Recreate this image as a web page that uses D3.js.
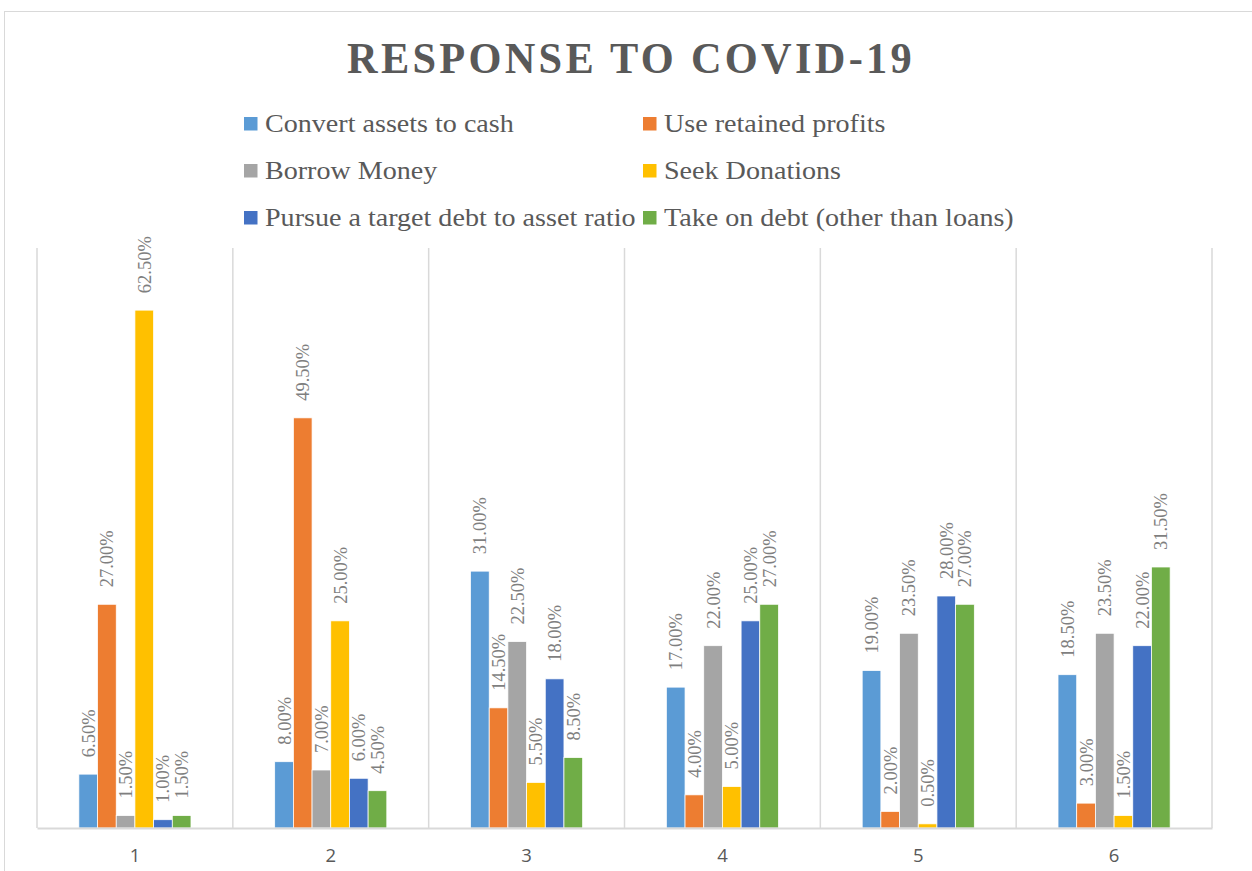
<!DOCTYPE html>
<html>
<head>
<meta charset="utf-8">
<script src="https://cdn.jsdelivr.net/npm/d3@7"></script>
<style>
  body { margin: 0; background: #fff; }
  svg { display: block; }
</style>
</head>
<body>
<div id="chart"></div>
<script>
// data
const categories = ["1", "2", "3", "4", "5", "6"];
const seriesNames = [
  "Convert assets to cash",
  "Use retained profits",
  "Borrow Money",
  "Seek Donations",
  "Pursue a target debt to asset ratio",
  "Take on debt (other than loans)"
];
const convertAssets = [6.5, 8.0, 31.0, 17.0, 19.0, 18.5];
const retainedProfits = [27.0, 49.5, 14.5, 4.0, 2.0, 3.0];
const borrowMoney = [1.5, 7.0, 22.5, 22.0, 23.5, 23.5];
const seekDonations = [62.5, 25.0, 5.5, 5.0, 0.5, 1.5];
const targetDebt = [1.0, 6.0, 18.0, 25.0, 28.0, 22.0];
const otherDebt = [1.5, 4.5, 8.5, 27.0, 27.0, 31.5];
const seriesValues = [convertAssets, retainedProfits, borrowMoney, seekDonations, targetDebt, otherDebt];

const colors = ["#5b9bd5", "#ed7d31", "#a5a5a5", "#ffc000", "#4472c4", "#70ad47"];

const width = 1252, height = 871;
const plot = { left: 37, right: 1212, top: 248, bottom: 828 };
const serif = "'Liberation Serif', 'Times New Roman', serif";
const stretch = 1.08; // the source text is a little wide

const svg = d3.select("#chart").append("svg")
  .attr("width", width)
  .attr("height", height);

// chart border
svg.append("rect")
  .attr("x", 4.5).attr("y", 11.5)
  .attr("width", 1270).attr("height", 880)
  .attr("fill", "none")
  .attr("stroke", "#d9d9d9");

// title
svg.append("text")
  .attr("x", 347).attr("y", 72.5)
  .attr("textLength", 568)
  .attr("lengthAdjust", "spacingAndGlyphs")
  .attr("letter-spacing", 3.5)
  .attr("font-family", serif)
  .attr("font-weight", "bold")
  .attr("font-size", 45)
  .attr("fill", "#595959")
  .text("RESPONSE TO COVID-19");

// legend
const legend = svg.append("g");
seriesNames.forEach((name, i) => {
  const col = i % 2, row = Math.floor(i / 2);
  const g = legend.append("g")
    .attr("transform", `translate(${col === 0 ? 244 : 643},${117 + row * 47})`);
  g.append("rect")
    .attr("width", 13.5).attr("height", 13.5)
    .attr("fill", colors[i]);
  const t = g.append("text")
    .attr("x", 21).attr("y", 14.5)
    .attr("font-family", serif)
    .attr("font-size", 26)
    .attr("fill", "#595959")
    .text(name);
  const len = t.node().getComputedTextLength();
  t.attr("textLength", len * stretch).attr("lengthAdjust", "spacingAndGlyphs");
});

// scales
const x0 = d3.scaleBand()
  .domain(categories)
  .range([plot.left, plot.right])
  .padding(0);

const x1 = d3.scaleBand()
  .domain(d3.range(seriesNames.length))
  .range([0, x0.bandwidth()])
  .paddingInner(0)
  .paddingOuter(2.24);

const y = d3.scaleLinear()
  .domain([0, 70])
  .range([plot.bottom, plot.top]);

// vertical separators
const bounds = categories.map(c => x0(c)).concat([plot.right]);
svg.append("g")
  .selectAll("line")
  .data(bounds)
  .join("line")
  .attr("x1", d => d).attr("x2", d => d)
  .attr("y1", plot.top).attr("y2", plot.bottom)
  .attr("stroke", "#d9d9d9")
  .attr("stroke-width", 1.5);

// bars
const rows = [];
categories.forEach((c, ci) => {
  seriesValues.forEach((vals, si) => {
    rows.push({ cat: c, s: si, v: vals[ci] });
  });
});

const groups = svg.append("g");
groups.selectAll("rect")
  .data(rows)
  .join("rect")
  .attr("x", d => x0(d.cat) + x1(d.s))
  .attr("width", x1.bandwidth())
  .attr("y", d => y(d.v))
  .attr("height", d => y(0) - y(d.v))
  .attr("fill", d => colors[d.s])
  .attr("stroke", "#fff")
  .attr("stroke-width", 0.75);

// data labels
groups.selectAll("text")
  .data(rows)
  .join("text")
  .attr("transform", d => `translate(${x0(d.cat) + x1(d.s) + x1.bandwidth() / 2},${y(d.v) - 17}) rotate(-90)`)
  .attr("dy", "0.35em")
  .attr("font-family", serif)
  .attr("font-size", 18.5)
  .attr("fill", "#7f7f7f")
  .text(d => d.v.toFixed(2) + "%");

// x axis
const xAxis = d3.axisBottom(x0).tickSize(0).tickSizeOuter(0).tickPadding(21);
const ax = svg.append("g")
  .attr("transform", `translate(0,${plot.bottom})`)
  .call(xAxis);
ax.select(".domain").attr("stroke", "#d9d9d9").attr("stroke-width", 2);
ax.selectAll("text")
  .attr("font-family", "'Open Sans', 'Noto Sans', sans-serif")
  .attr("font-size", 18.5)
  .attr("fill", "#595959");
</script>
</body>
</html>
